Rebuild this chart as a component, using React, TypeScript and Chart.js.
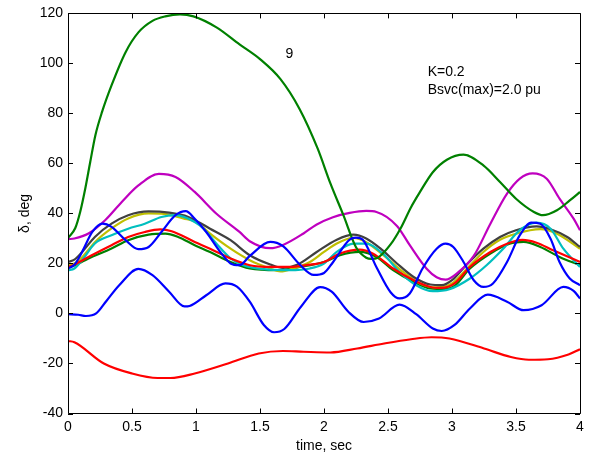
import React, { useEffect, useRef } from "react";
import { Chart, registerables } from "chart.js";

Chart.register(...registerables);

type P = [number, number][];

const xTicks = [0, 0.5, 1, 1.5, 2, 2.5, 3, 3.5, 4];
const yTicks = [-40, -20, 0, 20, 40, 60, 80, 100, 120];

const green9: P = [[0,30.2],[0.057,34.2],[0.096,40.8],[0.135,50],[0.174,60.7],[0.214,71.3],[0.266,80.6],[0.34,91.2],[0.45,104.5],[0.55,112.4],[0.66,117],[0.76,118.8],[0.875,119.6],[0.98,118.8],[1.16,114.4],[1.34,107.6],[1.5,101.7],[1.66,93.7],[1.81,81.7],[1.95,66],[2.05,52],[2.15,39.5],[2.25,26.5],[2.33,22.3],[2.37,21.8],[2.42,22.3],[2.52,27.6],[2.6,34.2],[2.68,42.5],[2.75,48.6],[2.85,56.5],[2.96,61.5],[3.09,63.5],[3.245,59.2],[3.375,52.6],[3.5,45.9],[3.64,40.6],[3.71,39.3],[3.82,41.3],[3.92,45.2],[4.0,48.6]];

const magenta: P = [[0,29.7],[0.05,30],[0.16,32],[0.29,37.3],[0.42,44.6],[0.55,51.2],[0.71,55.8],[0.84,54.6],[0.99,48.6],[1.16,39.9],[1.34,32.6],[1.42,28.9],[1.58,26.1],[1.68,27.4],[1.84,32],[1.94,35.5],[2.07,38.5],[2.2,40.2],[2.33,41],[2.41,40.6],[2.57,35],[2.67,27.3],[2.8,18],[2.88,14.5],[2.95,13.5],[3.05,16.5],[3.17,23],[3.3,35.9],[3.43,47.9],[3.53,53.9],[3.63,56],[3.74,53.9],[3.84,45.9],[3.95,37.9],[4.0,33.3]];

const gray: P = [[0,20.6],[0.05,21.5],[0.11,24.6],[0.21,30.6],[0.34,35.9],[0.47,39.3],[0.63,40.8],[0.79,40.3],[0.94,38.6],[1.11,33.9],[1.27,29.3],[1.42,23.3],[1.58,19.6],[1.68,18.2],[1.79,19.5],[1.94,24.5],[2.1,29.5],[2.23,31.5],[2.33,30],[2.44,26],[2.57,20],[2.7,14.6],[2.83,11.6],[2.92,11.3],[3.0,13.3],[3.11,19.3],[3.245,25.9],[3.375,30.6],[3.5,33.3],[3.66,34.8],[3.77,33.7],[3.9,30.6],[4.0,26.6]];

const yellow: P = [[0,19.5],[0.05,20],[0.11,22.5],[0.21,28.5],[0.34,34],[0.47,38],[0.63,40],[0.75,39.8],[0.9,38],[1.0,36.6],[1.11,31.9],[1.27,25.9],[1.42,21.3],[1.58,18],[1.66,16.8],[1.76,18],[1.89,20.6],[2.0,24.6],[2.1,28],[2.23,30.2],[2.33,28.5],[2.49,22.2],[2.62,16.5],[2.75,12],[2.88,10.4],[3.0,12],[3.1,17],[3.245,24.6],[3.375,29.5],[3.5,31.9],[3.69,33.7],[3.82,31.9],[4.0,25.9]];

const cyan: P = [[0,17.3],[0.05,18],[0.11,21.3],[0.21,28],[0.34,31.3],[0.47,33.9],[0.6,35.9],[0.73,38.6],[0.84,39.3],[0.99,36.6],[1.06,33.9],[1.16,27.9],[1.27,22],[1.37,19.3],[1.53,17.7],[1.73,17.3],[1.89,18],[2.0,20],[2.1,24.6],[2.23,27.9],[2.33,27.9],[2.46,23.9],[2.59,16.6],[2.72,11.3],[2.85,8.9],[2.98,9.7],[3.14,14],[3.27,19.3],[3.4,25.9],[3.53,33.3],[3.66,36.3],[3.77,33.9],[3.87,25.9],[4.0,18.6]];

const redUpper: P = [[0,18.6],[0.05,19.5],[0.16,22.6],[0.34,27.3],[0.47,30.6],[0.6,32.6],[0.72,33.6],[0.81,32.9],[0.99,28.6],[1.11,25.9],[1.27,22],[1.42,19.3],[1.58,18.6],[1.73,18.6],[1.86,19.3],[2.0,20.6],[2.125,24],[2.28,25.5],[2.38,24],[2.54,18],[2.7,13.3],[2.83,10.6],[2.92,10.2],[3.02,12],[3.14,18.6],[3.3,24.6],[3.43,27.9],[3.55,29.4],[3.66,28.3],[3.79,25.3],[4.0,20.6]];

const greenLower: P = [[0,18.6],[0.05,19.2],[0.16,22],[0.34,26],[0.47,29.3],[0.63,31.5],[0.76,31.9],[0.86,30.6],[0.99,27.3],[1.11,24.6],[1.27,20.6],[1.42,18],[1.63,17.3],[1.81,18.6],[2.0,20.6],[2.125,23.3],[2.28,24.6],[2.41,22.6],[2.54,17.3],[2.7,12.6],[2.83,10],[2.95,9.7],[3.02,11],[3.14,18],[3.3,24],[3.45,27.9],[3.56,28.6],[3.69,26.6],[3.84,22.6],[4.0,19.3]];

const blueUpper: P = [[0,18],[0.05,19.5],[0.11,24.6],[0.19,32.6],[0.27,35.9],[0.34,34.6],[0.45,29.3],[0.55,25.7],[0.63,26.6],[0.73,32.6],[0.84,39.3],[0.92,40.9],[0.99,37.9],[1.08,32.6],[1.19,24.6],[1.27,20],[1.34,19.3],[1.42,23],[1.58,28.6],[1.68,26.9],[1.81,19.6],[1.92,15.4],[2.0,16.2],[2.07,20.5],[2.2,29.5],[2.25,30.3],[2.3,29.6],[2.41,18.5],[2.52,8.5],[2.59,6],[2.67,8],[2.77,18],[2.88,25.9],[2.95,27.9],[3.01,26.6],[3.09,20.6],[3.17,13.3],[3.245,10.6],[3.32,12],[3.43,20.6],[3.53,31.3],[3.62,36.3],[3.69,35.9],[3.77,29.9],[3.84,20.6],[3.92,14],[4.0,11.3]];

const blueLower: P = [[0,-0.3],[0.08,-0.5],[0.14,-1],[0.22,0],[0.3,5],[0.4,11.3],[0.55,17.8],[0.66,15.3],[0.79,8.7],[0.91,2.8],[0.95,3],[1.08,7.3],[1.23,12],[1.32,10.7],[1.42,4.7],[1.53,-4.6],[1.61,-7.5],[1.69,-6.2],[1.82,2.7],[1.97,10.5],[2.06,8.7],[2.19,0.7],[2.31,-3.4],[2.43,-2],[2.59,3.5],[2.72,-0.3],[2.85,-6],[2.92,-7],[3.02,-4.6],[3.14,2],[3.28,7.5],[3.43,4.7],[3.56,1.3],[3.7,3.3],[3.87,10.6],[3.95,9],[4.0,6]];

const redLower: P = [[0,-11],[0.05,-11.5],[0.28,-20],[0.5,-24],[0.7,-25.8],[0.8,-25.8],[0.99,-24],[1.25,-20],[1.49,-16],[1.68,-15],[1.84,-15.3],[2.05,-15.6],[2.26,-14],[2.47,-12],[2.68,-10.3],[2.84,-9.5],[2.98,-10],[3.25,-14],[3.46,-17.4],[3.6,-18.5],[3.75,-18.3],[3.91,-16.4],[4.0,-14.3]];

const seriesList: { name: string; data: P; color: string }[] = [
  { name: "blueUpper", data: blueUpper, color: "#0000ff" },
  { name: "blueLower", data: blueLower, color: "#0000ff" },
  { name: "green9", data: green9, color: "#008000" },
  { name: "redUpper", data: redUpper, color: "#ff0000" },
  { name: "redLower", data: redLower, color: "#ff0000" },
  { name: "magenta", data: magenta, color: "#bf00bf" },
  { name: "cyan", data: cyan, color: "#00bfbf" },
  { name: "gray", data: gray, color: "#404040" },
  { name: "yellow", data: yellow, color: "#bfbf00" },
  { name: "greenLower", data: greenLower, color: "#008000" },
];

const annotations: { text: string; x: number; y: number; align: CanvasTextAlign }[] = [
  { text: "9", x: 1.73, y: 103.7, align: "center" },
  { text: "K=0.2", x: 2.81, y: 96.5, align: "left" },
  { text: "Bsvc(max)=2.0 pu", x: 2.81, y: 89.4, align: "left" },
];

const FONT = "Liberation Sans, Arial, Helvetica, sans-serif";

const framePlugin = {
  id: "frame",
  afterDatasetsDraw(chart: any) {
    const { ctx, chartArea } = chart;
    const { left, right, top, bottom } = chartArea;
    const xs = chart.scales.x;
    const ys = chart.scales.y;
    ctx.save();
    ctx.strokeStyle = "#000";
    ctx.lineWidth = 1;
    ctx.beginPath();
    ctx.rect(Math.round(left) + 0.5, Math.round(top) + 0.5, Math.round(right - left), Math.round(bottom - top));
    ctx.stroke();
    const tl = 5;
    ctx.beginPath();
    for (const v of xTicks) {
      const px = Math.round(xs.getPixelForValue(v)) + 0.5;
      ctx.moveTo(px, bottom);
      ctx.lineTo(px, bottom - tl);
      ctx.moveTo(px, top);
      ctx.lineTo(px, top + tl);
    }
    for (const v of yTicks) {
      const py = Math.round(ys.getPixelForValue(v)) + 0.5;
      ctx.moveTo(left, py);
      ctx.lineTo(left + tl, py);
      ctx.moveTo(right, py);
      ctx.lineTo(right - tl, py);
    }
    ctx.stroke();
    ctx.fillStyle = "#000";
    ctx.font = `14px ${FONT}`;
    ctx.textBaseline = "middle";
    for (const a of annotations) {
      ctx.textAlign = a.align;
      ctx.fillText(a.text, xs.getPixelForValue(a.x), ys.getPixelForValue(a.y));
    }
    ctx.textAlign = "center";
    ctx.fillText("time, sec", (left + right) / 2, 446);
    ctx.save();
    ctx.translate(25, (top + bottom) / 2);
    ctx.rotate(-Math.PI / 2);
    ctx.fillText("δ, deg", 0, 0);
    ctx.restore();
    ctx.restore();
  },
};

export default function App() {
  const ref = useRef<HTMLCanvasElement | null>(null);
  useEffect(() => {
    if (!ref.current) return;
    const chart = new Chart(ref.current, {
      type: "line",
      data: {
        datasets: seriesList.map((s) => ({
          label: s.name,
          data: s.data.map(([x, y]) => ({ x, y })),
          borderColor: s.color,
          backgroundColor: s.color,
          borderWidth: 2.2,
          pointRadius: 0,
          fill: false,
          cubicInterpolationMode: "monotone" as const,
        })),
      },
      options: {
        animation: false,
        responsive: false,
        devicePixelRatio: 1,
        layout: { padding: { top: 11, right: 12, left: 0, bottom: 0 } },
        plugins: { legend: { display: false }, tooltip: { enabled: false } },
        scales: {
          x: {
            type: "linear",
            min: 0,
            max: 4,
            afterBuildTicks: (s: any) => {
              s.ticks = xTicks.map((v) => ({ value: v }));
            },
            afterFit: (s: any) => {
              s.height = 47.5;
            },
            ticks: {
              font: { family: FONT, size: 14 },
              color: "#000",
              padding: 5,
              maxRotation: 0,
              autoSkip: false,
              callback: (v: any) => String(Number(v)),
            },
            grid: { display: false, drawTicks: false },
            border: { display: false },
          },
          y: {
            type: "linear",
            min: -40,
            max: 120,
            afterBuildTicks: (s: any) => {
              s.ticks = yTicks.map((v) => ({ value: v }));
            },
            afterFit: (s: any) => {
              s.width = 68;
            },
            ticks: { font: { family: FONT, size: 14 }, color: "#000", padding: 5, callback: (v: any) => String(Number(v)) },
            grid: { display: false, drawTicks: false },
            border: { display: false },
          },
        },
      },
      plugins: [framePlugin],
    });
    return () => chart.destroy();
  }, []);
  return (
    <div style={{ position: "absolute", left: 0, top: 0, width: 592, height: 461, background: "#fff" }}>
      <canvas ref={ref} width={592} height={461} />
    </div>
  );
}
